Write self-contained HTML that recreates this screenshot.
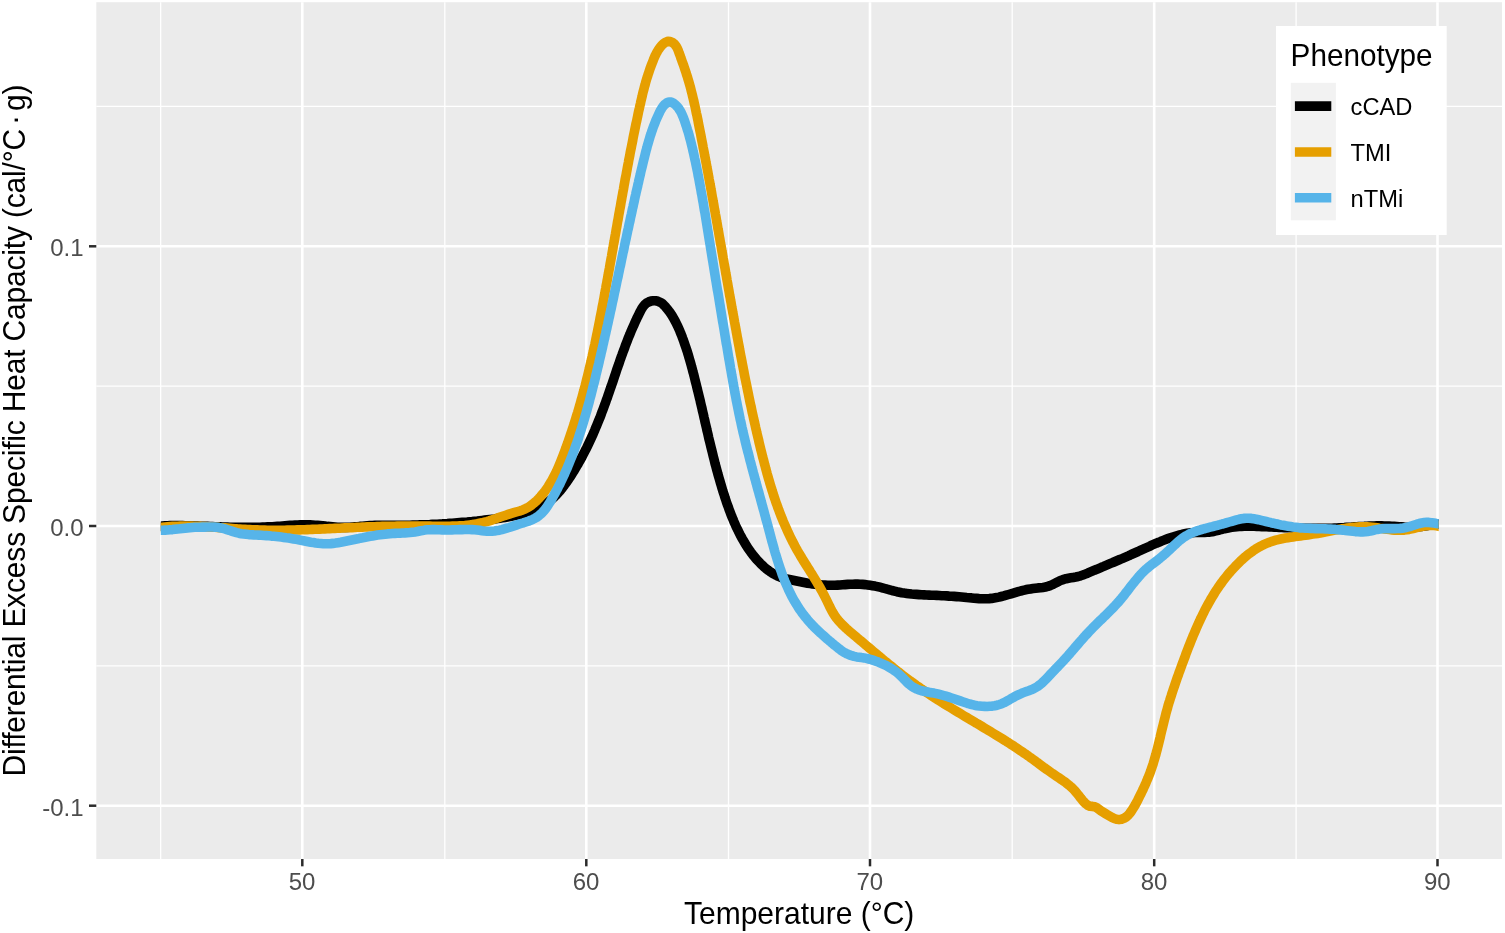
<!DOCTYPE html>
<html lang="en">
<head>
<meta charset="utf-8">
<title>Differential Excess Specific Heat Capacity vs Temperature</title>
<style>
html,body{margin:0;padding:0;background:#ffffff;}
body{width:1505px;height:933px;overflow:hidden;position:relative;font-family:"Liberation Sans",Arial,sans-serif;}
svg text{font-family:"Liberation Sans",Arial,sans-serif;}
</style>
</head>
<body>
<svg width="1505" height="933" viewBox="0 0 1505 933" style="display:block;position:absolute;left:0;top:0">
<rect x="0" y="0" width="1505" height="933" fill="#ffffff"/>
<rect x="96.3" y="2.2" width="1405.7" height="856.8" fill="#EBEBEB"/>
<g stroke="#ffffff" stroke-width="1.3" fill="none"><line x1="160.65" x2="160.65" y1="2.2" y2="859.0"/><line x1="444.80" x2="444.80" y1="2.2" y2="859.0"/><line x1="728.50" x2="728.50" y1="2.2" y2="859.0"/><line x1="1012.20" x2="1012.20" y1="2.2" y2="859.0"/><line x1="1296.10" x2="1296.10" y1="2.2" y2="859.0"/><line y1="106.45" y2="106.45" x1="96.3" x2="1502.0"/><line y1="386.15" y2="386.15" x1="96.3" x2="1502.0"/><line y1="665.85" y2="665.85" x1="96.3" x2="1502.0"/></g>
<g stroke="#ffffff" stroke-width="2.6" fill="none"><line x1="302.30" x2="302.30" y1="2.2" y2="859.0"/><line x1="586.30" x2="586.30" y1="2.2" y2="859.0"/><line x1="870.00" x2="870.00" y1="2.2" y2="859.0"/><line x1="1154.20" x2="1154.20" y1="2.2" y2="859.0"/><line x1="1437.50" x2="1437.50" y1="2.2" y2="859.0"/><line y1="246.30" y2="246.30" x1="96.3" x2="1502.0"/><line y1="526.00" y2="526.00" x1="96.3" x2="1502.0"/><line y1="805.70" y2="805.70" x1="96.3" x2="1502.0"/></g>
<clipPath id="cc"><rect x="160.8" y="2.2" width="1277.9" height="856.8"/></clipPath>
<g fill="none" stroke-width="9.6" stroke-linejoin="round" stroke-linecap="butt" clip-path="url(#cc)">
<path stroke="#000000" d="M152.5 526.7L155.0 526.6L157.5 526.4L160.0 526.2L162.5 526.0L165.0 525.8L167.5 525.7L170.0 525.6L172.5 525.6L175.0 525.6L177.5 525.6L180.0 525.6L182.5 525.6L185.0 525.7L187.5 525.7L190.0 525.8L192.5 525.9L195.0 526.0L197.5 526.1L200.0 526.2L202.5 526.3L205.0 526.4L207.5 526.4L210.0 526.5L212.5 526.6L215.0 526.7L217.5 526.8L220.0 526.9L222.5 527.0L225.0 527.0L227.5 527.1L230.0 527.2L232.5 527.2L235.0 527.2L237.5 527.3L240.0 527.3L242.5 527.3L245.0 527.3L247.5 527.3L250.0 527.3L252.5 527.3L255.0 527.3L257.5 527.2L260.0 527.2L262.5 527.1L265.0 527.0L267.5 526.9L270.0 526.8L272.5 526.7L275.0 526.5L277.5 526.3L280.0 526.2L282.5 526.0L285.0 525.8L287.5 525.6L290.1 525.4L292.6 525.3L295.1 525.1L297.6 525.0L300.1 524.9L302.6 524.8L305.1 524.8L307.6 524.8L310.1 524.9L312.6 525.0L315.1 525.2L317.6 525.4L320.1 525.6L322.6 525.8L325.1 526.1L327.6 526.4L330.1 526.6L332.6 526.8L335.1 527.0L337.6 527.2L340.1 527.3L342.5 527.4L345.0 527.4L347.5 527.4L350.0 527.3L352.5 527.1L355.0 526.9L357.4 526.7L359.9 526.4L362.4 526.2L364.9 526.0L367.4 525.8L369.9 525.6L372.4 525.5L374.9 525.4L377.4 525.4L379.9 525.3L382.4 525.3L384.9 525.3L387.5 525.3L390.0 525.4L392.5 525.4L395.0 525.4L397.5 525.4L400.0 525.3L402.5 525.3L405.0 525.3L407.5 525.2L410.0 525.2L412.5 525.1L415.0 525.1L417.5 525.0L420.0 524.9L422.5 524.9L424.9 524.8L427.4 524.7L429.9 524.6L432.4 524.4L434.9 524.3L437.4 524.2L439.9 524.0L442.3 523.9L444.8 523.7L447.3 523.6L449.8 523.4L452.3 523.2L454.8 523.0L457.3 522.8L459.8 522.6L462.3 522.4L464.7 522.2L467.2 522.0L469.7 521.7L472.2 521.5L474.7 521.2L477.2 521.0L479.7 520.7L482.2 520.4L484.7 520.1L487.2 519.8L489.8 519.5L492.3 519.2L494.8 518.9L497.3 518.5L499.8 518.2L502.3 517.8L504.9 517.4L507.4 517.0L509.9 516.6L512.3 516.1L514.8 515.6L517.3 515.1L519.7 514.5L522.1 513.9L524.5 513.2L526.9 512.5L529.2 511.7L531.5 510.9L533.8 510.0L536.1 509.0L538.3 508.0L540.4 506.9L542.6 505.7L544.6 504.5L546.7 503.1L548.6 501.7L550.6 500.2L552.5 498.6L554.3 496.9L556.1 495.1L557.8 493.3L559.5 491.4L561.1 489.4L562.7 487.4L564.3 485.3L565.8 483.2L567.3 481.1L568.7 479.0L570.2 476.8L571.6 474.6L572.9 472.5L574.3 470.3L575.6 468.1L576.9 465.9L578.2 463.7L579.4 461.5L580.7 459.3L581.9 457.1L583.0 454.9L584.2 452.6L585.3 450.4L586.5 448.2L587.6 445.9L588.6 443.7L589.7 441.4L590.7 439.2L591.8 436.9L592.8 434.7L593.8 432.4L594.8 430.1L595.7 427.8L596.7 425.6L597.6 423.3L598.5 421.0L599.5 418.7L600.4 416.4L601.3 414.0L602.1 411.7L603.0 409.4L603.9 407.1L604.7 404.7L605.6 402.4L606.4 400.0L607.3 397.7L608.1 395.3L608.9 392.9L609.7 390.6L610.5 388.2L611.4 385.8L612.2 383.4L613.0 381.1L613.8 378.7L614.6 376.3L615.4 373.9L616.2 371.5L617.0 369.1L617.8 366.8L618.7 364.4L619.5 362.0L620.3 359.6L621.1 357.3L622.0 354.9L622.8 352.6L623.7 350.2L624.6 347.9L625.4 345.5L626.3 343.2L627.2 340.9L628.1 338.6L629.0 336.3L630.0 334.0L630.9 331.7L631.9 329.4L632.9 327.1L633.9 324.9L634.9 322.6L636.0 320.3L637.0 318.0L638.2 315.7L639.3 313.4L640.5 311.0L641.8 308.7L643.2 306.5L644.8 304.6L646.6 303.0L648.7 301.9L651.0 301.1L653.3 300.7L655.7 300.8L658.0 301.3L660.3 302.3L662.3 303.6L664.2 305.4L665.9 307.3L667.6 309.3L669.1 311.3L670.6 313.4L672.0 315.5L673.3 317.7L674.5 319.9L675.7 322.1L676.8 324.3L677.9 326.6L678.9 328.9L679.9 331.2L680.8 333.5L681.8 335.8L682.6 338.1L683.5 340.5L684.3 342.8L685.1 345.2L685.9 347.6L686.7 349.9L687.5 352.3L688.2 354.7L688.9 357.1L689.6 359.5L690.3 361.9L691.0 364.3L691.6 366.7L692.3 369.1L692.9 371.6L693.6 374.0L694.2 376.4L694.8 378.8L695.4 381.3L696.0 383.7L696.6 386.1L697.2 388.5L697.8 391.0L698.4 393.4L699.0 395.8L699.6 398.3L700.2 400.7L700.7 403.2L701.3 405.6L701.9 408.0L702.4 410.5L703.0 412.9L703.6 415.4L704.1 417.8L704.7 420.2L705.2 422.7L705.8 425.1L706.4 427.6L706.9 430.0L707.5 432.4L708.1 434.9L708.6 437.3L709.2 439.8L709.8 442.2L710.4 444.6L711.0 447.1L711.6 449.5L712.2 451.9L712.8 454.4L713.4 456.8L714.0 459.2L714.6 461.6L715.2 464.1L715.9 466.5L716.5 468.9L717.2 471.3L717.8 473.7L718.5 476.1L719.2 478.5L719.9 480.9L720.6 483.3L721.3 485.7L722.0 488.1L722.7 490.5L723.5 492.9L724.3 495.3L725.0 497.7L725.8 500.0L726.6 502.4L727.4 504.8L728.3 507.1L729.1 509.5L730.0 511.8L730.9 514.2L731.8 516.5L732.8 518.8L733.7 521.1L734.7 523.4L735.7 525.7L736.8 528.0L737.9 530.2L739.0 532.5L740.1 534.7L741.3 536.9L742.5 539.1L743.8 541.3L745.0 543.4L746.4 545.6L747.7 547.7L749.1 549.7L750.6 551.8L752.1 553.8L753.6 555.8L755.2 557.8L756.9 559.7L758.6 561.5L760.3 563.3L762.1 565.1L763.9 566.8L765.8 568.4L767.8 570.0L769.8 571.4L771.9 572.8L774.0 574.1L776.2 575.3L778.4 576.4L780.7 577.3L783.1 578.0L785.5 578.7L788.0 579.2L790.5 579.7L793.0 580.2L795.4 580.7L797.9 581.2L800.4 581.7L802.8 582.2L805.3 582.7L807.7 583.2L810.2 583.6L812.6 584.0L815.1 584.3L817.6 584.6L820.1 584.8L822.6 585.0L825.1 585.1L827.6 585.2L830.1 585.2L832.6 585.2L835.1 585.2L837.6 585.1L840.1 585.0L842.6 584.8L845.1 584.6L847.7 584.4L850.2 584.3L852.7 584.2L855.2 584.1L857.7 584.1L860.1 584.2L862.6 584.4L865.1 584.6L867.6 584.9L870.1 585.3L872.5 585.7L875.0 586.1L877.4 586.6L879.9 587.2L882.3 587.8L884.7 588.5L887.2 589.2L889.6 589.8L892.0 590.5L894.4 591.1L896.8 591.7L899.3 592.2L901.7 592.7L904.2 593.1L906.7 593.4L909.1 593.7L911.6 594.0L914.1 594.2L916.6 594.4L919.1 594.6L921.6 594.8L924.1 594.9L926.6 595.0L929.1 595.1L931.6 595.2L934.1 595.3L936.7 595.4L939.2 595.5L941.6 595.7L944.1 595.8L946.6 595.9L949.1 596.1L951.6 596.2L954.1 596.4L956.6 596.6L959.1 596.8L961.6 597.0L964.1 597.2L966.6 597.5L969.1 597.7L971.6 597.9L974.1 598.2L976.6 598.4L979.1 598.6L981.7 598.7L984.2 598.8L986.7 598.7L989.1 598.6L991.6 598.4L994.1 598.0L996.5 597.6L998.9 597.1L1001.3 596.5L1003.8 595.9L1006.2 595.2L1008.6 594.5L1011.0 593.8L1013.4 593.1L1015.8 592.4L1018.2 591.7L1020.7 591.0L1023.1 590.4L1025.5 589.8L1028.0 589.3L1030.5 588.9L1033.0 588.5L1035.5 588.2L1038.0 587.9L1040.5 587.7L1042.9 587.4L1045.4 587.0L1047.8 586.4L1050.1 585.6L1052.4 584.6L1054.6 583.5L1056.8 582.4L1059.1 581.2L1061.4 580.2L1063.7 579.4L1066.1 578.7L1068.5 578.2L1070.9 577.8L1073.4 577.4L1075.8 577.0L1078.2 576.5L1080.6 575.8L1082.9 575.0L1085.2 574.1L1087.6 573.2L1089.9 572.2L1092.2 571.2L1094.5 570.2L1096.8 569.3L1099.1 568.3L1101.4 567.3L1103.7 566.4L1106.0 565.4L1108.3 564.4L1110.6 563.4L1112.9 562.5L1115.2 561.5L1117.5 560.5L1119.8 559.5L1122.1 558.6L1124.4 557.6L1126.7 556.6L1129.0 555.6L1131.2 554.5L1133.5 553.5L1135.8 552.5L1138.1 551.5L1140.4 550.4L1142.6 549.4L1144.9 548.3L1147.2 547.3L1149.5 546.3L1151.8 545.2L1154.1 544.2L1156.4 543.2L1158.7 542.3L1161.0 541.3L1163.3 540.4L1165.6 539.5L1168.0 538.6L1170.3 537.8L1172.7 537.0L1175.1 536.3L1177.5 535.6L1179.9 534.9L1182.3 534.3L1184.8 533.8L1187.2 533.3L1189.7 532.9L1192.2 532.7L1194.7 532.5L1197.2 532.4L1199.7 532.4L1202.2 532.4L1204.7 532.4L1207.2 532.3L1209.7 532.1L1212.1 531.7L1214.6 531.2L1217.1 530.6L1219.5 530.0L1222.0 529.3L1224.4 528.7L1226.9 528.2L1229.3 527.7L1231.8 527.3L1234.3 527.0L1236.8 526.7L1239.2 526.5L1241.7 526.4L1244.2 526.3L1246.7 526.3L1249.2 526.3L1251.7 526.3L1254.2 526.3L1256.7 526.4L1259.2 526.5L1261.7 526.6L1264.2 526.7L1266.7 526.8L1269.2 526.9L1271.7 527.0L1274.2 527.1L1276.7 527.3L1279.2 527.4L1281.7 527.5L1284.2 527.6L1286.7 527.7L1289.3 527.8L1291.8 527.9L1294.3 528.0L1296.8 528.0L1299.3 528.1L1301.8 528.2L1304.3 528.2L1306.8 528.3L1309.3 528.3L1311.8 528.4L1314.3 528.4L1316.8 528.4L1319.3 528.4L1321.8 528.4L1324.3 528.3L1326.8 528.3L1329.3 528.2L1331.8 528.2L1334.3 528.1L1336.8 528.0L1339.3 527.8L1341.8 527.7L1344.2 527.6L1346.7 527.4L1349.2 527.2L1351.7 527.1L1354.2 526.9L1356.7 526.8L1359.2 526.6L1361.7 526.5L1364.2 526.4L1366.7 526.2L1369.2 526.1L1371.7 526.0L1374.2 526.0L1376.7 525.9L1379.2 525.9L1381.7 525.9L1384.2 526.0L1386.7 526.0L1389.1 526.1L1391.6 526.3L1394.1 526.4L1396.6 526.6L1399.1 526.8L1401.6 526.9L1404.1 527.1L1406.6 527.2L1409.1 527.2L1411.6 527.2L1414.1 527.2L1416.6 527.1L1419.0 526.8L1421.5 526.5L1424.0 526.1L1426.5 525.7L1429.0 525.3L1431.5 524.8L1434.0 524.5L1436.5 524.2L1439.0 524.1L1441.5 524.1L1444.0 524.2L1446.5 524.5"/>
<path stroke="#E69F00" d="M152.5 528.8L155.0 528.4L157.5 528.0L160.0 527.6L162.5 527.3L165.0 527.0L167.5 526.8L170.0 526.6L172.5 526.4L175.0 526.3L177.5 526.2L180.0 526.1L182.4 526.1L184.9 526.0L187.4 526.0L189.9 526.1L192.4 526.1L194.9 526.2L197.4 526.2L199.9 526.3L202.4 526.5L204.9 526.6L207.4 526.7L209.9 526.9L212.3 527.0L214.8 527.2L217.3 527.4L219.8 527.6L222.3 527.7L224.8 527.9L227.3 528.1L229.8 528.3L232.3 528.5L234.8 528.7L237.3 528.9L239.8 529.0L242.3 529.2L244.8 529.3L247.2 529.5L249.7 529.6L252.2 529.7L254.7 529.8L257.2 529.9L259.7 530.0L262.2 530.1L264.7 530.1L267.2 530.2L269.7 530.2L272.2 530.2L274.7 530.2L277.2 530.2L279.7 530.2L282.2 530.2L284.7 530.2L287.2 530.1L289.7 530.1L292.2 530.0L294.8 530.0L297.3 529.9L299.8 529.9L302.3 529.8L304.8 529.7L307.3 529.6L309.8 529.5L312.3 529.4L314.8 529.3L317.3 529.2L319.8 529.1L322.3 529.0L324.8 528.9L327.3 528.8L329.8 528.6L332.3 528.5L334.8 528.4L337.3 528.3L339.8 528.2L342.3 528.0L344.8 527.9L347.3 527.8L349.8 527.7L352.3 527.6L354.8 527.5L357.3 527.3L359.8 527.2L362.3 527.1L364.7 527.0L367.2 526.9L369.7 526.8L372.2 526.8L374.7 526.7L377.2 526.6L379.7 526.5L382.2 526.4L384.7 526.4L387.2 526.3L389.7 526.3L392.2 526.2L394.7 526.2L397.2 526.1L399.7 526.1L402.2 526.1L404.7 526.0L407.2 526.0L409.7 526.0L412.2 526.0L414.7 526.0L417.2 526.0L419.7 526.0L422.2 526.0L424.7 526.1L427.2 526.1L429.8 526.1L432.3 526.2L434.8 526.2L437.3 526.2L439.8 526.2L442.4 526.3L444.9 526.3L447.4 526.2L449.9 526.2L452.4 526.1L454.9 526.1L457.4 526.0L459.9 525.8L462.4 525.7L464.9 525.5L467.4 525.2L469.8 524.9L472.3 524.6L474.7 524.2L477.2 523.8L479.6 523.3L482.0 522.8L484.4 522.2L486.8 521.6L489.2 520.9L491.6 520.1L493.9 519.3L496.3 518.5L498.7 517.6L501.0 516.8L503.4 516.0L505.8 515.2L508.2 514.4L510.6 513.6L513.0 512.9L515.5 512.2L517.9 511.5L520.3 510.8L522.7 509.9L524.9 509.0L527.2 507.8L529.3 506.6L531.3 505.2L533.3 503.6L535.2 502.0L537.1 500.3L538.8 498.5L540.5 496.6L542.1 494.7L543.7 492.8L545.2 490.8L546.7 488.7L548.1 486.7L549.4 484.5L550.7 482.4L551.9 480.3L553.1 478.1L554.3 475.8L555.4 473.6L556.5 471.4L557.5 469.1L558.5 466.8L559.5 464.5L560.5 462.1L561.4 459.8L562.3 457.5L563.2 455.1L564.1 452.8L565.0 450.4L565.9 448.0L566.7 445.7L567.6 443.3L568.4 440.9L569.2 438.6L570.0 436.2L570.8 433.8L571.6 431.5L572.4 429.1L573.2 426.7L574.0 424.3L574.7 422.0L575.5 419.6L576.2 417.2L576.9 414.8L577.7 412.4L578.4 410.0L579.1 407.6L579.8 405.2L580.5 402.8L581.1 400.4L581.8 398.0L582.5 395.6L583.1 393.2L583.8 390.8L584.4 388.4L585.1 386.0L585.7 383.6L586.3 381.1L586.9 378.7L587.5 376.3L588.1 373.9L588.7 371.4L589.3 369.0L589.8 366.6L590.4 364.1L591.0 361.7L591.5 359.3L592.1 356.8L592.6 354.4L593.2 351.9L593.7 349.5L594.2 347.1L594.8 344.6L595.3 342.2L595.8 339.7L596.3 337.3L596.8 334.8L597.3 332.4L597.8 329.9L598.3 327.4L598.8 325.0L599.3 322.5L599.8 320.1L600.2 317.6L600.7 315.2L601.2 312.7L601.7 310.3L602.1 307.8L602.6 305.3L603.1 302.9L603.5 300.4L604.0 298.0L604.4 295.5L604.9 293.0L605.3 290.6L605.8 288.1L606.2 285.6L606.7 283.2L607.1 280.7L607.6 278.3L608.0 275.8L608.5 273.3L608.9 270.9L609.4 268.4L609.8 266.0L610.2 263.5L610.7 261.0L611.1 258.6L611.6 256.1L612.0 253.6L612.4 251.2L612.9 248.7L613.3 246.3L613.7 243.8L614.2 241.3L614.6 238.9L615.0 236.4L615.5 233.9L615.9 231.5L616.3 229.0L616.8 226.6L617.2 224.1L617.6 221.6L618.1 219.2L618.5 216.7L618.9 214.2L619.4 211.8L619.8 209.3L620.3 206.9L620.7 204.4L621.1 201.9L621.6 199.5L622.0 197.0L622.5 194.6L622.9 192.1L623.4 189.6L623.8 187.2L624.2 184.7L624.7 182.3L625.1 179.8L625.6 177.3L626.1 174.9L626.5 172.4L627.0 170.0L627.4 167.5L627.9 165.1L628.4 162.6L628.8 160.1L629.3 157.7L629.8 155.2L630.2 152.8L630.7 150.3L631.2 147.9L631.7 145.4L632.2 143.0L632.7 140.5L633.1 138.0L633.6 135.6L634.1 133.1L634.6 130.7L635.1 128.2L635.6 125.8L636.1 123.3L636.7 120.9L637.2 118.4L637.7 116.0L638.2 113.5L638.7 111.1L639.3 108.6L639.8 106.2L640.4 103.8L640.9 101.3L641.5 98.9L642.1 96.4L642.6 94.0L643.2 91.6L643.9 89.2L644.5 86.7L645.2 84.3L645.8 81.9L646.5 79.5L647.3 77.1L648.0 74.8L648.8 72.4L649.6 70.0L650.4 67.7L651.3 65.3L652.2 63.0L653.1 60.7L654.0 58.3L655.0 56.0L656.1 53.8L657.3 51.6L658.6 49.4L660.0 47.4L661.6 45.4L663.4 43.7L665.6 42.2L667.9 41.4L670.3 41.6L672.7 42.7L674.7 44.3L676.2 46.3L677.4 48.5L678.4 50.9L679.2 53.3L680.1 55.6L680.9 58.0L681.8 60.4L682.6 62.8L683.5 65.1L684.3 67.5L685.1 69.8L685.9 72.2L686.6 74.6L687.4 76.9L688.1 79.3L688.8 81.7L689.5 84.1L690.2 86.5L690.8 88.9L691.4 91.3L692.0 93.7L692.6 96.2L693.2 98.6L693.8 101.0L694.3 103.5L694.9 105.9L695.4 108.4L695.9 110.8L696.4 113.3L697.0 115.7L697.5 118.2L698.0 120.6L698.4 123.1L698.9 125.5L699.4 128.0L699.9 130.4L700.4 132.9L700.9 135.4L701.3 137.8L701.8 140.3L702.3 142.7L702.8 145.2L703.2 147.6L703.7 150.1L704.2 152.6L704.6 155.0L705.1 157.5L705.6 159.9L706.0 162.4L706.5 164.9L706.9 167.3L707.4 169.8L707.9 172.2L708.3 174.7L708.8 177.2L709.2 179.6L709.7 182.1L710.1 184.5L710.6 187.0L711.0 189.5L711.5 191.9L711.9 194.4L712.3 196.9L712.8 199.3L713.2 201.8L713.7 204.2L714.1 206.7L714.5 209.2L715.0 211.6L715.4 214.1L715.9 216.6L716.3 219.0L716.7 221.5L717.2 223.9L717.6 226.4L718.0 228.9L718.5 231.3L718.9 233.8L719.3 236.3L719.8 238.7L720.2 241.2L720.6 243.7L721.1 246.1L721.5 248.6L721.9 251.0L722.4 253.5L722.8 256.0L723.2 258.4L723.7 260.9L724.1 263.4L724.5 265.8L725.0 268.3L725.4 270.7L725.8 273.2L726.3 275.7L726.7 278.1L727.1 280.6L727.6 283.1L728.0 285.5L728.4 288.0L728.9 290.4L729.3 292.9L729.7 295.4L730.2 297.8L730.6 300.3L731.1 302.7L731.5 305.2L731.9 307.7L732.4 310.1L732.8 312.6L733.3 315.0L733.7 317.5L734.2 320.0L734.6 322.4L735.1 324.9L735.5 327.3L736.0 329.8L736.4 332.3L736.9 334.7L737.3 337.2L737.8 339.6L738.2 342.1L738.7 344.5L739.2 347.0L739.6 349.5L740.1 351.9L740.5 354.4L741.0 356.8L741.5 359.3L742.0 361.7L742.4 364.2L742.9 366.6L743.4 369.1L743.9 371.6L744.3 374.0L744.8 376.5L745.3 378.9L745.8 381.4L746.3 383.8L746.8 386.3L747.3 388.7L747.8 391.2L748.3 393.6L748.8 396.1L749.3 398.5L749.8 401.0L750.3 403.4L750.9 405.8L751.4 408.3L751.9 410.7L752.4 413.2L753.0 415.6L753.5 418.1L754.1 420.5L754.6 422.9L755.2 425.4L755.7 427.8L756.3 430.3L756.8 432.7L757.4 435.1L758.0 437.6L758.6 440.0L759.1 442.5L759.7 444.9L760.3 447.3L760.9 449.8L761.5 452.2L762.1 454.6L762.7 457.1L763.4 459.5L764.0 461.9L764.6 464.3L765.3 466.8L765.9 469.2L766.6 471.6L767.2 474.0L767.9 476.4L768.6 478.8L769.3 481.2L770.0 483.6L770.7 486.0L771.5 488.4L772.2 490.8L773.0 493.2L773.7 495.6L774.5 497.9L775.3 500.3L776.1 502.7L777.0 505.0L777.8 507.4L778.7 509.7L779.5 512.0L780.4 514.3L781.3 516.7L782.3 519.0L783.2 521.3L784.2 523.6L785.2 525.9L786.2 528.1L787.2 530.4L788.2 532.7L789.3 534.9L790.4 537.2L791.5 539.4L792.6 541.6L793.8 543.8L794.9 546.0L796.1 548.2L797.3 550.4L798.6 552.6L799.9 554.7L801.1 556.9L802.4 559.0L803.7 561.1L805.1 563.3L806.4 565.4L807.7 567.5L809.1 569.7L810.4 571.8L811.8 573.9L813.1 576.1L814.4 578.2L815.7 580.4L817.0 582.5L818.3 584.7L819.6 586.9L820.8 589.1L822.0 591.3L823.2 593.5L824.4 595.7L825.5 598.0L826.6 600.2L827.7 602.5L828.8 604.8L829.9 607.0L831.0 609.3L832.2 611.5L833.5 613.6L834.8 615.7L836.2 617.7L837.7 619.6L839.3 621.5L841.0 623.3L842.7 625.1L844.5 626.8L846.3 628.5L848.2 630.2L850.1 631.8L852.0 633.4L854.0 635.1L855.9 636.7L857.8 638.3L859.7 639.9L861.7 641.5L863.6 643.2L865.5 644.8L867.4 646.4L869.3 648.0L871.3 649.7L873.2 651.3L875.1 652.9L877.0 654.5L878.9 656.1L880.9 657.7L882.8 659.3L884.7 660.9L886.7 662.5L888.6 664.1L890.5 665.7L892.5 667.2L894.4 668.8L896.4 670.3L898.3 671.9L900.3 673.4L902.3 675.0L904.3 676.5L906.3 678.0L908.3 679.5L910.3 681.0L912.3 682.4L914.3 683.9L916.3 685.4L918.4 686.8L920.4 688.2L922.5 689.6L924.5 691.0L926.6 692.4L928.7 693.8L930.8 695.2L932.8 696.6L934.9 697.9L937.0 699.3L939.2 700.6L941.3 701.9L943.4 703.3L945.5 704.6L947.6 705.9L949.8 707.2L951.9 708.5L954.1 709.8L956.2 711.1L958.3 712.4L960.5 713.7L962.6 715.0L964.8 716.3L966.9 717.5L969.1 718.8L971.2 720.1L973.4 721.4L975.5 722.7L977.7 723.9L979.8 725.2L982.0 726.5L984.1 727.8L986.3 729.1L988.4 730.4L990.6 731.7L992.7 733.0L994.9 734.3L997.0 735.6L999.1 736.9L1001.2 738.2L1003.4 739.5L1005.5 740.8L1007.6 742.2L1009.7 743.5L1011.8 744.9L1013.9 746.2L1015.9 747.6L1018.0 749.0L1020.1 750.4L1022.2 751.8L1024.2 753.2L1026.3 754.6L1028.3 756.0L1030.3 757.5L1032.3 758.9L1034.4 760.4L1036.4 761.9L1038.4 763.3L1040.4 764.8L1042.4 766.3L1044.4 767.8L1046.4 769.2L1048.5 770.7L1050.5 772.1L1052.6 773.6L1054.7 775.0L1056.8 776.4L1058.9 777.8L1060.9 779.2L1063.0 780.7L1065.1 782.1L1067.1 783.7L1069.0 785.2L1070.9 786.8L1072.7 788.5L1074.4 790.3L1076.1 792.2L1077.6 794.1L1079.2 796.1L1080.7 798.1L1082.3 800.1L1084.0 802.0L1085.8 803.8L1087.7 805.3L1089.9 806.2L1092.4 806.4L1094.8 806.8L1097.0 807.9L1099.0 809.4L1101.0 810.9L1103.1 812.2L1105.3 813.5L1107.5 814.8L1109.7 816.1L1111.9 817.4L1114.2 818.5L1116.6 819.3L1119.0 819.6L1121.5 819.2L1123.9 818.3L1126.1 817.0L1128.0 815.4L1129.6 813.5L1131.1 811.5L1132.5 809.4L1133.8 807.2L1135.1 805.1L1136.3 802.9L1137.5 800.7L1138.6 798.4L1139.7 796.2L1140.8 794.0L1141.9 791.7L1143.0 789.5L1144.0 787.2L1145.1 784.9L1146.1 782.6L1147.0 780.3L1148.0 778.0L1148.9 775.7L1149.8 773.4L1150.7 771.0L1151.5 768.7L1152.3 766.3L1153.1 763.9L1153.8 761.5L1154.5 759.1L1155.2 756.7L1155.9 754.3L1156.5 751.9L1157.2 749.5L1157.8 747.0L1158.4 744.6L1159.0 742.2L1159.6 739.7L1160.2 737.3L1160.7 734.8L1161.3 732.4L1161.9 729.9L1162.5 727.5L1163.1 725.1L1163.7 722.6L1164.3 720.2L1164.9 717.8L1165.5 715.3L1166.1 712.9L1166.8 710.5L1167.5 708.1L1168.1 705.7L1168.8 703.3L1169.6 700.9L1170.3 698.6L1171.1 696.2L1171.8 693.8L1172.6 691.5L1173.4 689.1L1174.2 686.7L1175.0 684.4L1175.8 682.0L1176.6 679.7L1177.4 677.3L1178.3 675.0L1179.1 672.6L1180.0 670.3L1180.8 667.9L1181.7 665.6L1182.5 663.2L1183.4 660.9L1184.3 658.5L1185.2 656.2L1186.0 653.8L1186.9 651.5L1187.8 649.1L1188.7 646.8L1189.7 644.4L1190.6 642.1L1191.5 639.8L1192.5 637.4L1193.4 635.1L1194.4 632.8L1195.4 630.5L1196.4 628.2L1197.4 625.9L1198.4 623.6L1199.5 621.3L1200.5 619.0L1201.6 616.8L1202.7 614.5L1203.8 612.3L1204.9 610.0L1206.1 607.8L1207.3 605.6L1208.5 603.4L1209.7 601.3L1210.9 599.1L1212.2 597.0L1213.5 594.9L1214.8 592.7L1216.1 590.7L1217.5 588.6L1218.9 586.5L1220.3 584.5L1221.8 582.5L1223.2 580.5L1224.8 578.5L1226.3 576.6L1227.9 574.6L1229.5 572.7L1231.1 570.9L1232.8 569.0L1234.5 567.2L1236.2 565.4L1238.0 563.6L1239.8 561.8L1241.6 560.1L1243.5 558.4L1245.4 556.7L1247.4 555.1L1249.3 553.6L1251.4 552.1L1253.4 550.6L1255.5 549.2L1257.6 547.9L1259.8 546.6L1262.0 545.5L1264.2 544.4L1266.5 543.4L1268.8 542.5L1271.1 541.6L1273.5 540.9L1275.8 540.2L1278.2 539.6L1280.7 539.0L1283.1 538.5L1285.5 538.1L1288.0 537.7L1290.5 537.3L1293.0 536.9L1295.4 536.5L1297.9 536.2L1300.4 535.9L1302.9 535.5L1305.4 535.2L1307.8 534.9L1310.3 534.5L1312.8 534.1L1315.3 533.8L1317.8 533.4L1320.2 533.0L1322.7 532.5L1325.1 532.0L1327.6 531.6L1330.1 531.1L1332.5 530.6L1335.0 530.1L1337.4 529.7L1339.9 529.2L1342.3 528.8L1344.8 528.4L1347.3 528.0L1349.8 527.7L1352.3 527.4L1354.7 527.2L1357.2 527.0L1359.7 526.9L1362.2 526.8L1364.7 526.8L1367.2 526.9L1369.7 527.0L1372.2 527.2L1374.7 527.5L1377.1 527.8L1379.6 528.2L1382.1 528.5L1384.6 528.9L1387.0 529.3L1389.5 529.6L1392.0 529.9L1394.4 530.1L1396.9 530.3L1399.4 530.3L1401.8 530.3L1404.3 530.1L1406.8 529.8L1409.2 529.4L1411.7 528.9L1414.1 528.3L1416.6 527.7L1419.1 527.1L1421.5 526.6L1424.0 526.1L1426.5 525.7L1429.0 525.4L1431.5 525.3L1434.0 525.4L1436.5 525.7L1439.0 526.2L1441.5 526.9L1444.0 527.3L1446.5 526.9"/>
<path stroke="#56B4E9" d="M152.5 529.8L155.0 530.0L157.5 530.2L160.0 530.2L162.5 530.2L165.0 530.1L167.5 530.0L170.0 529.8L172.5 529.6L175.0 529.3L177.5 529.0L179.9 528.8L182.4 528.5L184.9 528.2L187.4 527.9L189.8 527.7L192.3 527.5L194.8 527.3L197.3 527.2L199.8 527.2L202.3 527.1L204.8 527.1L207.3 527.0L209.8 527.0L212.3 527.0L214.8 527.1L217.3 527.3L219.7 527.7L222.2 528.2L224.6 528.8L226.9 529.6L229.3 530.3L231.7 531.1L234.1 531.9L236.5 532.6L238.9 533.2L241.3 533.7L243.8 534.0L246.3 534.3L248.8 534.6L251.3 534.7L253.8 534.9L256.3 535.0L258.8 535.1L261.3 535.3L263.8 535.5L266.3 535.6L268.8 535.8L271.3 536.1L273.8 536.3L276.3 536.5L278.7 536.8L281.2 537.1L283.7 537.4L286.2 537.8L288.6 538.1L291.1 538.5L293.6 538.9L296.1 539.3L298.5 539.7L301.0 540.2L303.5 540.7L305.9 541.2L308.4 541.7L310.9 542.2L313.4 542.6L315.8 543.0L318.3 543.3L320.8 543.5L323.3 543.7L325.7 543.8L328.2 543.7L330.7 543.6L333.2 543.4L335.7 543.1L338.1 542.7L340.6 542.3L343.1 541.8L345.6 541.3L348.0 540.8L350.5 540.3L353.0 539.8L355.4 539.3L357.9 538.8L360.3 538.2L362.8 537.8L365.2 537.3L367.7 536.8L370.1 536.3L372.6 535.9L375.1 535.5L377.5 535.1L380.0 534.8L382.5 534.5L384.9 534.2L387.4 533.9L389.9 533.7L392.4 533.5L394.9 533.4L397.4 533.3L399.9 533.2L402.4 533.0L404.9 532.9L407.4 532.7L409.9 532.5L412.4 532.2L414.9 531.9L417.4 531.5L419.8 531.0L422.3 530.6L424.7 530.1L427.2 529.8L429.6 529.7L432.1 529.6L434.6 529.6L437.1 529.7L439.6 529.8L442.1 529.9L444.6 530.0L447.1 530.0L449.6 530.0L452.1 529.9L454.6 529.8L457.1 529.7L459.6 529.6L462.1 529.6L464.6 529.5L467.0 529.5L469.5 529.5L472.0 529.6L474.5 529.8L477.0 530.0L479.5 530.3L482.0 530.7L484.5 531.0L487.0 531.2L489.5 531.3L492.0 531.2L494.5 531.0L497.0 530.6L499.4 530.2L501.8 529.6L504.3 528.9L506.7 528.2L509.1 527.5L511.5 526.7L513.8 525.9L516.2 525.1L518.6 524.3L521.0 523.5L523.5 522.8L525.9 522.0L528.3 521.2L530.6 520.3L532.9 519.3L535.1 518.2L537.2 517.0L539.1 515.5L540.9 513.9L542.7 512.2L544.3 510.3L545.9 508.4L547.3 506.3L548.7 504.2L550.1 502.0L551.4 499.8L552.7 497.5L553.9 495.3L555.1 493.1L556.3 490.8L557.5 488.6L558.6 486.3L559.8 484.1L560.9 481.8L562.0 479.5L563.0 477.3L564.1 475.0L565.1 472.7L566.1 470.4L567.1 468.2L568.0 465.9L569.0 463.6L569.9 461.3L570.8 459.0L571.8 456.6L572.6 454.3L573.5 452.0L574.4 449.7L575.2 447.3L576.0 445.0L576.9 442.6L577.7 440.3L578.5 437.9L579.2 435.5L580.0 433.2L580.8 430.8L581.5 428.4L582.3 426.0L583.0 423.6L583.7 421.2L584.4 418.8L585.1 416.4L585.8 414.0L586.5 411.6L587.2 409.2L587.8 406.8L588.5 404.4L589.2 402.0L589.8 399.5L590.4 397.1L591.1 394.7L591.7 392.2L592.3 389.8L592.9 387.4L593.5 385.0L594.2 382.5L594.8 380.1L595.4 377.7L595.9 375.2L596.5 372.8L597.1 370.3L597.7 367.9L598.3 365.5L598.9 363.0L599.4 360.6L600.0 358.2L600.6 355.7L601.1 353.3L601.7 350.9L602.3 348.4L602.8 346.0L603.4 343.5L603.9 341.1L604.5 338.7L605.0 336.2L605.6 333.8L606.1 331.4L606.7 328.9L607.2 326.5L607.8 324.0L608.3 321.6L608.8 319.2L609.4 316.7L609.9 314.3L610.4 311.8L611.0 309.4L611.5 307.0L612.0 304.5L612.5 302.1L613.1 299.6L613.6 297.2L614.1 294.8L614.6 292.3L615.2 289.9L615.7 287.4L616.2 285.0L616.7 282.6L617.2 280.1L617.8 277.7L618.3 275.2L618.8 272.8L619.3 270.4L619.8 267.9L620.4 265.5L620.9 263.0L621.4 260.6L621.9 258.1L622.4 255.7L622.9 253.2L623.5 250.8L624.0 248.4L624.5 245.9L625.0 243.5L625.5 241.0L626.1 238.6L626.6 236.1L627.1 233.7L627.6 231.2L628.2 228.8L628.7 226.4L629.2 223.9L629.8 221.5L630.3 219.0L630.8 216.6L631.4 214.1L631.9 211.7L632.4 209.2L633.0 206.8L633.5 204.3L634.1 201.9L634.6 199.4L635.1 197.0L635.7 194.5L636.2 192.1L636.8 189.6L637.4 187.2L637.9 184.7L638.5 182.3L639.0 179.8L639.6 177.4L640.2 174.9L640.7 172.5L641.3 170.0L641.9 167.6L642.5 165.1L643.1 162.7L643.7 160.2L644.3 157.8L644.9 155.4L645.5 152.9L646.1 150.5L646.8 148.1L647.4 145.7L648.1 143.3L648.8 140.9L649.5 138.6L650.2 136.2L651.0 133.9L651.7 131.6L652.5 129.3L653.3 127.0L654.2 124.7L655.1 122.4L656.0 120.1L657.0 117.8L658.1 115.4L659.2 113.1L660.3 110.7L661.7 108.4L663.2 106.2L664.9 104.3L666.9 102.8L669.0 102.0L671.2 102.1L673.3 103.1L675.4 104.7L677.2 106.6L678.8 108.6L680.2 110.8L681.4 113.0L682.4 115.4L683.4 117.7L684.3 120.1L685.1 122.5L685.9 124.9L686.7 127.3L687.4 129.7L688.2 132.1L688.9 134.5L689.5 136.9L690.2 139.3L690.8 141.7L691.4 144.2L692.0 146.6L692.6 149.0L693.1 151.4L693.7 153.8L694.2 156.2L694.7 158.6L695.3 161.1L695.8 163.5L696.3 165.9L696.8 168.4L697.3 170.8L697.8 173.2L698.2 175.7L698.7 178.1L699.2 180.6L699.6 183.0L700.1 185.5L700.5 187.9L701.0 190.4L701.4 192.9L701.9 195.3L702.3 197.8L702.7 200.3L703.2 202.7L703.6 205.2L704.0 207.7L704.4 210.2L704.9 212.6L705.3 215.1L705.7 217.6L706.1 220.1L706.5 222.5L706.9 225.0L707.3 227.5L707.7 230.0L708.1 232.4L708.5 234.9L708.9 237.4L709.3 239.9L709.7 242.3L710.1 244.8L710.5 247.3L710.9 249.8L711.3 252.2L711.7 254.7L712.1 257.2L712.5 259.6L712.9 262.1L713.3 264.6L713.7 267.0L714.1 269.5L714.5 272.0L714.9 274.4L715.3 276.9L715.7 279.4L716.1 281.8L716.5 284.3L716.9 286.7L717.3 289.2L717.8 291.7L718.2 294.1L718.6 296.6L719.0 299.0L719.4 301.5L719.8 304.0L720.2 306.4L720.6 308.9L721.0 311.3L721.4 313.8L721.8 316.3L722.2 318.7L722.6 321.2L723.1 323.7L723.5 326.1L723.9 328.6L724.3 331.0L724.7 333.5L725.1 336.0L725.5 338.4L725.9 340.9L726.3 343.4L726.8 345.8L727.2 348.3L727.6 350.8L728.0 353.3L728.4 355.7L728.8 358.2L729.3 360.7L729.7 363.1L730.1 365.6L730.5 368.1L731.0 370.6L731.4 373.0L731.8 375.5L732.3 378.0L732.7 380.4L733.1 382.9L733.6 385.4L734.0 387.9L734.5 390.3L734.9 392.8L735.4 395.3L735.9 397.7L736.3 400.2L736.8 402.6L737.3 405.1L737.8 407.6L738.3 410.0L738.8 412.5L739.3 414.9L739.8 417.4L740.3 419.8L740.9 422.2L741.4 424.7L741.9 427.1L742.5 429.6L743.0 432.0L743.6 434.4L744.2 436.8L744.8 439.3L745.3 441.7L745.9 444.1L746.5 446.5L747.1 448.9L747.7 451.3L748.4 453.7L749.0 456.2L749.6 458.6L750.2 461.0L750.9 463.4L751.5 465.8L752.1 468.2L752.8 470.6L753.4 473.0L754.1 475.4L754.7 477.8L755.4 480.2L756.0 482.6L756.7 485.0L757.3 487.4L758.0 489.8L758.7 492.2L759.3 494.6L760.0 497.0L760.7 499.5L761.3 501.9L762.0 504.3L762.6 506.7L763.3 509.1L764.0 511.5L764.6 514.0L765.3 516.4L765.9 518.8L766.6 521.2L767.3 523.7L767.9 526.1L768.6 528.5L769.2 531.0L769.9 533.4L770.5 535.9L771.2 538.3L771.8 540.8L772.5 543.2L773.2 545.6L773.9 548.1L774.5 550.5L775.2 552.9L776.0 555.3L776.7 557.7L777.4 560.1L778.2 562.5L779.0 564.9L779.7 567.3L780.6 569.7L781.4 572.0L782.2 574.4L783.1 576.7L784.0 579.0L784.9 581.3L785.9 583.6L786.9 585.9L787.9 588.2L788.9 590.4L790.0 592.6L791.1 594.8L792.2 597.0L793.4 599.2L794.6 601.3L795.9 603.4L797.2 605.5L798.5 607.6L799.8 609.7L801.3 611.7L802.7 613.7L804.2 615.7L805.8 617.6L807.4 619.6L809.0 621.5L810.7 623.3L812.4 625.2L814.2 627.0L816.0 628.8L817.8 630.5L819.7 632.3L821.6 634.0L823.5 635.7L825.4 637.4L827.3 639.1L829.2 640.7L831.2 642.3L833.1 644.0L835.0 645.6L836.9 647.1L838.9 648.7L840.9 650.2L842.9 651.6L845.0 652.8L847.1 653.9L849.4 654.9L851.7 655.7L854.1 656.4L856.6 656.9L859.0 657.2L861.5 657.6L864.0 657.9L866.4 658.4L868.8 659.0L871.2 659.6L873.6 660.4L875.9 661.2L878.3 662.1L880.6 663.1L882.9 664.1L885.2 665.1L887.5 666.3L889.6 667.5L891.8 668.8L893.9 670.2L895.9 671.6L897.8 673.2L899.7 674.8L901.5 676.6L903.3 678.4L905.0 680.2L906.8 682.0L908.6 683.8L910.5 685.3L912.6 686.8L914.7 688.0L916.9 689.1L919.2 690.0L921.5 690.8L924.0 691.3L926.4 691.8L928.9 692.3L931.4 692.7L933.9 693.1L936.3 693.6L938.8 694.2L941.2 694.8L943.6 695.5L946.0 696.2L948.4 696.9L950.8 697.7L953.2 698.5L955.5 699.3L957.9 700.1L960.2 700.9L962.6 701.7L964.9 702.5L967.3 703.3L969.7 704.0L972.1 704.6L974.5 705.2L977.0 705.7L979.5 706.0L982.1 706.3L984.6 706.4L987.1 706.5L989.7 706.3L992.2 706.1L994.6 705.7L997.1 705.2L999.4 704.5L1001.8 703.7L1004.0 702.7L1006.2 701.5L1008.4 700.3L1010.5 699.0L1012.7 697.8L1014.9 696.5L1017.1 695.4L1019.4 694.3L1021.7 693.3L1024.0 692.4L1026.4 691.5L1028.7 690.7L1031.1 689.8L1033.4 688.8L1035.6 687.6L1037.7 686.4L1039.7 684.9L1041.6 683.3L1043.4 681.7L1045.2 679.9L1047.0 678.1L1048.7 676.2L1050.4 674.4L1052.2 672.5L1053.9 670.7L1055.6 668.9L1057.4 667.1L1059.1 665.3L1060.8 663.5L1062.5 661.7L1064.2 659.9L1065.9 658.0L1067.6 656.1L1069.2 654.3L1070.8 652.4L1072.5 650.5L1074.1 648.6L1075.7 646.7L1077.4 644.8L1079.0 642.9L1080.6 641.0L1082.3 639.2L1083.9 637.3L1085.6 635.4L1087.3 633.6L1089.0 631.8L1090.7 630.0L1092.4 628.2L1094.2 626.4L1096.0 624.6L1097.7 622.9L1099.5 621.1L1101.3 619.4L1103.1 617.7L1104.9 615.9L1106.7 614.2L1108.5 612.4L1110.2 610.7L1112.0 608.9L1113.7 607.1L1115.4 605.3L1117.1 603.4L1118.8 601.6L1120.4 599.7L1122.0 597.7L1123.6 595.8L1125.1 593.8L1126.7 591.8L1128.2 589.8L1129.7 587.8L1131.3 585.8L1132.8 583.9L1134.4 581.9L1136.0 580.0L1137.6 578.1L1139.2 576.2L1140.9 574.3L1142.6 572.5L1144.4 570.8L1146.2 569.1L1148.1 567.5L1150.0 565.9L1152.0 564.3L1154.0 562.8L1156.0 561.3L1158.0 559.8L1160.0 558.2L1161.9 556.6L1163.8 555.0L1165.7 553.3L1167.5 551.7L1169.4 550.0L1171.2 548.2L1173.0 546.5L1174.8 544.8L1176.7 543.1L1178.5 541.4L1180.4 539.8L1182.4 538.3L1184.4 536.9L1186.5 535.6L1188.7 534.4L1190.9 533.3L1193.2 532.4L1195.5 531.5L1197.9 530.6L1200.3 529.9L1202.7 529.1L1205.2 528.5L1207.6 527.8L1210.1 527.2L1212.5 526.6L1215.0 525.9L1217.4 525.3L1219.8 524.7L1222.2 524.0L1224.6 523.4L1226.9 522.7L1229.3 522.0L1231.8 521.3L1234.2 520.6L1236.6 519.9L1239.0 519.3L1241.5 518.8L1243.9 518.4L1246.4 518.2L1248.8 518.3L1251.3 518.4L1253.8 518.8L1256.2 519.2L1258.7 519.7L1261.2 520.3L1263.6 520.9L1266.1 521.5L1268.5 522.1L1271.0 522.7L1273.4 523.2L1275.9 523.8L1278.3 524.3L1280.8 524.9L1283.2 525.3L1285.7 525.8L1288.1 526.2L1290.6 526.6L1293.0 527.0L1295.5 527.3L1298.0 527.6L1300.4 527.9L1302.9 528.0L1305.4 528.2L1307.9 528.3L1310.4 528.4L1312.9 528.5L1315.4 528.6L1317.9 528.7L1320.4 528.8L1322.9 528.8L1325.4 528.9L1327.9 529.0L1330.4 529.1L1332.9 529.3L1335.4 529.4L1337.9 529.7L1340.4 529.9L1342.9 530.1L1345.4 530.4L1347.9 530.7L1350.4 531.0L1352.9 531.3L1355.4 531.6L1357.9 531.8L1360.4 531.9L1362.8 531.9L1365.3 531.8L1367.7 531.5L1370.2 531.1L1372.6 530.5L1375.0 529.9L1377.5 529.4L1379.9 529.1L1382.4 528.8L1384.9 528.6L1387.4 528.6L1389.9 528.6L1392.4 528.6L1394.9 528.6L1397.4 528.5L1399.9 528.4L1402.4 528.2L1404.8 527.8L1407.3 527.2L1409.7 526.6L1412.1 525.8L1414.5 525.0L1416.9 524.2L1419.3 523.5L1421.7 522.9L1424.1 522.5L1426.6 522.4L1429.0 522.4L1431.5 522.7L1434.0 523.1L1436.5 523.5L1439.0 523.8L1441.5 524.1L1444.0 524.2L1446.5 524.0"/>
</g>
<g stroke="#2b2b2b" stroke-width="2.5" fill="none"><line x1="302.30" x2="302.30" y1="859.0" y2="866.33"/><line x1="586.30" x2="586.30" y1="859.0" y2="866.33"/><line x1="870.00" x2="870.00" y1="859.0" y2="866.33"/><line x1="1154.20" x2="1154.20" y1="859.0" y2="866.33"/><line x1="1437.50" x2="1437.50" y1="859.0" y2="866.33"/><line y1="246.30" y2="246.30" x1="88.97" x2="96.3"/><line y1="526.00" y2="526.00" x1="88.97" x2="96.3"/><line y1="805.70" y2="805.70" x1="88.97" x2="96.3"/></g>
<g font-family="'Liberation Sans', Arial, sans-serif" font-size="24.0" fill="#4D4D4D"><text transform="translate(302.10,890.3) scale(1,1.03)" text-anchor="middle">50</text><text transform="translate(586.10,890.3) scale(1,1.03)" text-anchor="middle">60</text><text transform="translate(869.80,890.3) scale(1,1.03)" text-anchor="middle">70</text><text transform="translate(1154.00,890.3) scale(1,1.03)" text-anchor="middle">80</text><text transform="translate(1437.30,890.3) scale(1,1.03)" text-anchor="middle">90</text><text transform="translate(83.5,256.20) scale(1,1.03)" text-anchor="end">0.1</text><text transform="translate(83.5,535.90) scale(1,1.03)" text-anchor="end">0.0</text><text transform="translate(83.5,815.60) scale(1,1.03)" text-anchor="end">-0.1</text></g>
<g font-family="'Liberation Sans', Arial, sans-serif" font-size="30.0" fill="#000000">
<text transform="translate(799.15,923.5) scale(1,1.03)" text-anchor="middle">Temperature (°C)</text>
<text transform="translate(24.9,430.60) rotate(-90) scale(1,1.03)" text-anchor="middle" letter-spacing="-0.18">Differential Excess Specific Heat Capacity (cal/°C <tspan dx="-4.1">·</tspan> <tspan dx="-4.1">g)</tspan></text>
</g>
<rect x="1276.0" y="26.0" width="170.70000000000005" height="209.0" fill="#ffffff"/>
<rect x="1290.80" y="82.80" width="45.1" height="137.5" fill="#F2F2F2"/>
<text transform="translate(1290.6,66.3) scale(1,1.03)" font-family="'Liberation Sans', Arial, sans-serif" font-size="29.7" fill="#000000">Phenotype</text>
<line x1="1294.9" x2="1331.3" y1="106.15" y2="106.15" stroke="#000000" stroke-width="9.6"/>
<text transform="translate(1350.6,115.35) scale(1,1.03)" font-family="'Liberation Sans', Arial, sans-serif" font-size="23.7" fill="#000000">cCAD</text>
<line x1="1294.9" x2="1331.3" y1="152.05" y2="152.05" stroke="#E69F00" stroke-width="9.6"/>
<text transform="translate(1350.6,161.25) scale(1,1.03)" font-family="'Liberation Sans', Arial, sans-serif" font-size="23.7" fill="#000000">TMI</text>
<line x1="1294.9" x2="1331.3" y1="197.80" y2="197.80" stroke="#56B4E9" stroke-width="9.6"/>
<text transform="translate(1350.6,207.00) scale(1,1.03)" font-family="'Liberation Sans', Arial, sans-serif" font-size="23.7" fill="#000000">nTMi</text>
</svg>
</body>
</html>
